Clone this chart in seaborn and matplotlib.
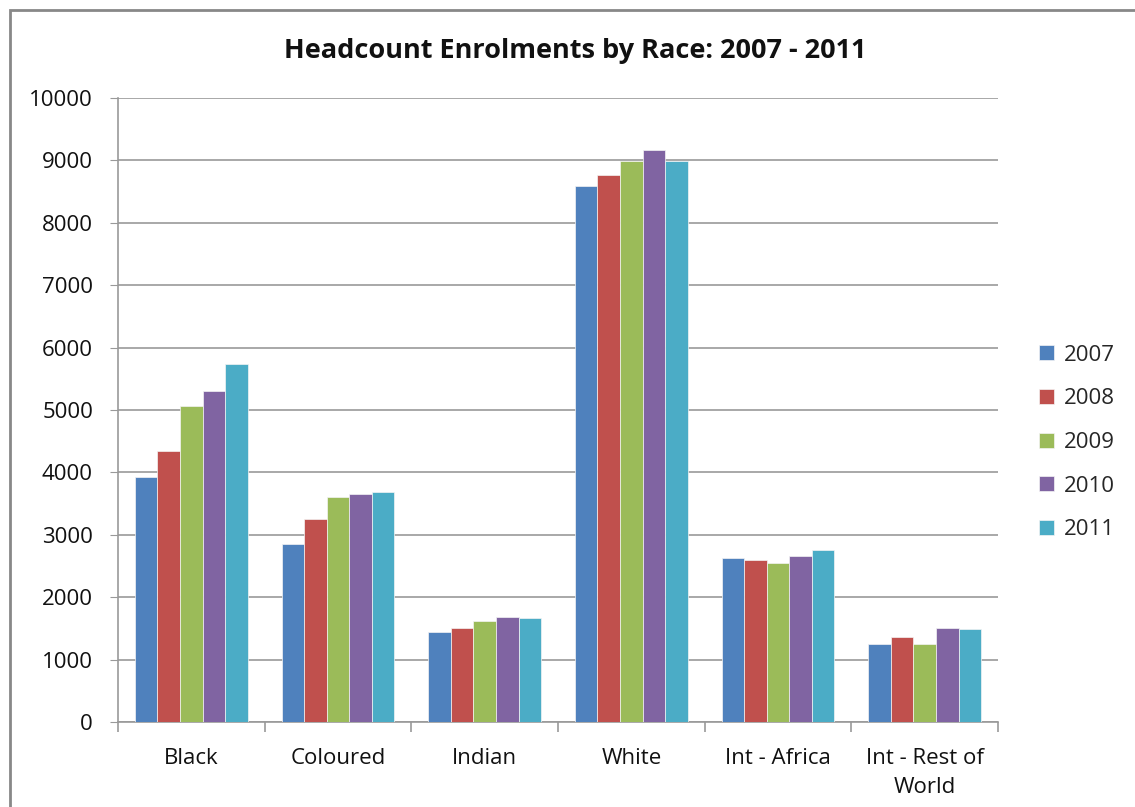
import matplotlib
matplotlib.use("Agg")
import matplotlib.pyplot as plt
import matplotlib.patches as mpatches
from matplotlib.ticker import FixedLocator
import seaborn as sns
import pandas as pd

categories = ["Black", "Coloured", "Indian", "White", "Int - Africa", "Int - Rest of\nWorld"]
years = ["2007", "2008", "2009", "2010", "2011"]
v2007 = [3920, 2860, 1450, 8595, 2630, 1255]
v2008 = [4350, 3250, 1505, 8770, 2590, 1355]
v2009 = [5060, 3610, 1625, 8990, 2555, 1255]
v2010 = [5310, 3650, 1685, 9170, 2655, 1510]
v2011 = [5730, 3690, 1660, 8995, 2760, 1485]
colors = ["#4F81BD", "#C0504D", "#9BBB59", "#8064A2", "#4BACC6"]

series = [v2007, v2008, v2009, v2010, v2011]
rows = []
for y, vals in zip(years, series):
    for c, v in zip(categories, vals):
        rows.append({"Race": c, "Year": y, "Headcount": v})
df = pd.DataFrame(rows)

sns.set_style("white")
plt.rcParams["font.family"] = ["Open Sans", "DejaVu Sans"]

fig = plt.figure(figsize=(11.35, 8.07), dpi=100)
ax = fig.add_axes([118/1135, 1-722/807, (998-118)/1135, (722-98)/807])

sns.barplot(data=df, x="Race", y="Headcount", hue="Year", order=categories,
            hue_order=years, palette=colors, saturation=1, width=0.77,
            edgecolor="#f4f4f4", linewidth=0.5, ax=ax, zorder=3)

ax.set_ylim(0, 10000)
ax.set_xlim(-0.5, len(categories) - 0.5)
ax.set_yticks(range(0, 10001, 1000))
ax.yaxis.grid(True, color="#999999", linewidth=1.2, zorder=0)
ax.set_axisbelow(True)
ax.set_xlabel("")
ax.set_ylabel("")
for s in ["top", "right"]:
    ax.spines[s].set_visible(False)
for s in ["left", "bottom"]:
    ax.spines[s].set_color("#999999")
    ax.spines[s].set_linewidth(1.2)

ax.tick_params(axis="y", left=True, length=6, color="#999999", labelsize=16, pad=12, labelcolor="#111111")
ax.tick_params(axis="x", which="major", length=0, labelsize=16, pad=19, labelcolor="#111111")
for lab in ax.get_xticklabels():
    lab.set_linespacing(1.45)
ax.xaxis.set_minor_locator(FixedLocator([i - 0.5 for i in range(len(categories) + 1)]))
ax.tick_params(axis="x", which="minor", bottom=True, length=7, color="#999999", width=1.2)

leg = ax.legend(loc="center left", bbox_to_anchor=(1.024, 0.448), frameon=False,
                fontsize=16, handlelength=0.65, handleheight=0.65, labelspacing=1.02,
                handletextpad=0.45)

fig.text(575/1135, 1-51/807, "Headcount Enrolments by Race: 2007 - 2011",
         ha="center", va="center", fontsize=19.5, fontweight="bold", color="#111111")

fig.add_artist(mpatches.Rectangle((10/1135, -0.1), 1.2, 1 - 10/807 + 0.1,
                                  transform=fig.transFigure, fill=False,
                                  edgecolor="#888888", linewidth=2))

fig.savefig("out.png", dpi=100, facecolor="white")
